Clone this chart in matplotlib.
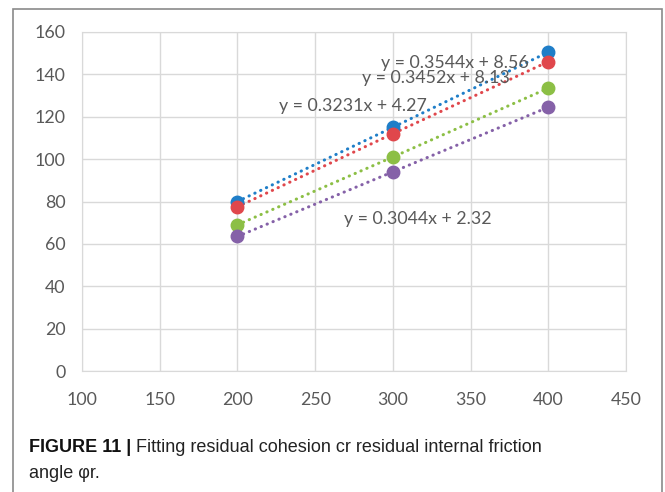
import matplotlib
matplotlib.use('Agg')
import matplotlib.pyplot as plt
from matplotlib.patches import Rectangle

# data
x_vals = [200, 300, 400]
y_blue = [80, 115, 150.5]
y_red = [77.5, 112, 146]
y_green = [69, 101, 133.5]
y_purple = [63.5, 94, 124.5]
eq_labels = ['y = 0.3544x + 8.56', 'y = 0.3452x + 8.13', 'y = 0.3231x + 4.27', 'y = 0.3044x + 2.32']
x_ticks = [100, 150, 200, 250, 300, 350, 400, 450]
y_ticks = [0, 20, 40, 60, 80, 100, 120, 140, 160]

colors = ['#1f7ec8', '#e0474c', '#8cbf45', '#8561a8']
series = [y_blue, y_red, y_green, y_purple]

fig = plt.figure(figsize=(6.65, 4.92), dpi=100)
fig.patches.append(Rectangle((13 / 665, -0.01), 649 / 665, 1 - 9 / 492 + 0.01, transform=fig.transFigure,
                             fill=False, edgecolor='#8a8a8a', linewidth=1.2))

ax = fig.add_axes([82 / 665, 1 - 371 / 492, 544 / 665, 339 / 492])
ax.set_xlim(100, 450)
ax.set_ylim(0, 160)
ax.set_xticks(x_ticks)
ax.set_yticks(y_ticks)
ax.grid(True, color='#d9d9d9', linewidth=1)
ax.set_axisbelow(True)
for s in ax.spines.values():
    s.set_color('#d9d9d9')
ax.tick_params(length=0, labelsize=12.8, labelcolor='#595959', pad=12)
for lab in ax.get_xticklabels() + ax.get_yticklabels():
    lab.set_family('Lato')
ax.tick_params(axis='x', pad=15)

for ys, c in zip(series, colors):
    ax.plot(x_vals, ys, linestyle=(0, (0.1, 2.0)), color=c, linewidth=2.2, dash_capstyle='round', zorder=2)
    ax.plot(x_vals, ys, 'o', color=c, markersize=9, zorder=3)

# trendline labels, overlapping as in the original
eq_pos = [(339.6, 145.5), (328, 138.3), (274, 125), (316, 71.7)]
for (px, py), t in zip(eq_pos, eq_labels):
    ax.text(px, py, t, ha='center', va='center', fontsize=12.8, color='#595959', family='Lato', zorder=4)

# caption
fig.canvas.draw()
r = fig.canvas.get_renderer()
t1 = fig.text(29 / 665, 1 - 448 / 492, 'FIGURE 11 |', fontsize=13, fontweight='bold',
              family='Liberation Sans', va='center', color='#111111')
bb = t1.get_window_extent(r)
fig.text((bb.x1 + 5) / 665, 1 - 448 / 492, 'Fitting residual cohesion cr residual internal friction',
         fontsize=13, family='Liberation Sans', va='center', color='#222222')
fig.text(29 / 665, 1 - 473 / 492, 'angle φr.', fontsize=13, family='Liberation Sans', va='center',
         color='#222222')

fig.savefig('out.png', dpi=100)
